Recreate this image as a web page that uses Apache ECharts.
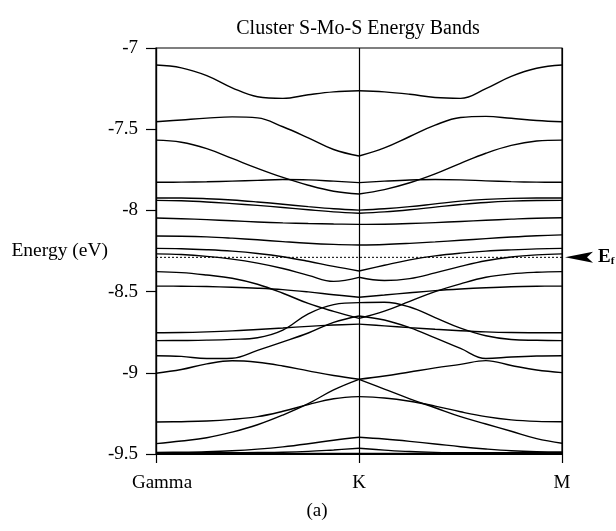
<!DOCTYPE html>
<html>
<head>
<meta charset="utf-8">
<script src="https://cdn.jsdelivr.net/npm/echarts@6/dist/echarts.min.js"></script>
<style>
html, body { margin: 0; padding: 0; background: #fff; }
#main { width: 616px; height: 531px; }
</style>
</head>
<body>
<div id="main"></div>
<script>
// k-path: Gamma = 0, K = 1, M = 2
var kLabels = ['Gamma', 'K', 'M'];
var kLeft = [0, 0.125, 0.25, 0.375, 0.5, 0.625, 0.75, 0.875, 1];
var kRight = [1, 1.125, 1.25, 1.375, 1.5, 1.625, 1.75, 1.875, 2];
var fermiLevel = -8.289;

// Gamma -> K, one row per band
var bandsGK = [
    [-7.105, -7.122, -7.17, -7.245, -7.30, -7.31, -7.288, -7.27, -7.263],
    [-7.454, -7.443, -7.432, -7.424, -7.43, -7.485, -7.553, -7.625, -7.665],
    [-7.567, -7.58, -7.62, -7.68, -7.741, -7.797, -7.845, -7.882, -7.899],
    [-7.827, -7.826, -7.824, -7.82, -7.815, -7.81, -7.812, -7.82, -7.829],
    [-7.924, -7.924, -7.928, -7.936, -7.948, -7.962, -7.977, -7.99, -7.998],
    [-7.938, -7.941, -7.948, -7.958, -7.969, -7.982, -7.996, -8.009, -8.018],
    [-8.047, -8.051, -8.057, -8.064, -8.071, -8.077, -8.081, -8.084, -8.086],
    [-8.158, -8.159, -8.163, -8.171, -8.181, -8.192, -8.202, -8.209, -8.213],
    [-8.234, -8.236, -8.242, -8.251, -8.265, -8.285, -8.313, -8.345, -8.373],
    [-8.268, -8.272, -8.283, -8.30, -8.325, -8.358, -8.40, -8.437, -8.412],
    [-8.377, -8.383, -8.398, -8.418, -8.455, -8.51, -8.573, -8.622, -8.665],
    [-8.466, -8.467, -8.469, -8.473, -8.479, -8.488, -8.502, -8.519, -8.535],
    [-8.753, -8.752, -8.748, -8.742, -8.733, -8.724, -8.714, -8.706, -8.70],
    [-8.802, -8.801, -8.799, -8.794, -8.784, -8.737, -8.637, -8.58, -8.568],
    [-8.895, -8.899, -8.912, -8.91, -8.862, -8.81, -8.755, -8.69, -8.65],
    [-9.003, -8.98, -8.945, -8.926, -8.935, -8.958, -8.988, -9.017, -9.04],
    [-9.303, -9.301, -9.297, -9.287, -9.27, -9.237, -9.196, -9.16, -9.147],
    [-9.436, -9.42, -9.40, -9.365, -9.32, -9.26, -9.19, -9.105, -9.04],
    [-9.49, -9.489, -9.486, -9.48, -9.47, -9.456, -9.437, -9.415, -9.397],
    [-9.492, -9.492, -9.492, -9.492, -9.491, -9.489, -9.484, -9.475, -9.465],
    [-9.496, -9.496, -9.496, -9.496, -9.496, -9.496, -9.496, -9.496, -9.496]
];

// K -> M, same band order
var bandsKM = [
    [-7.263, -7.27, -7.285, -7.305, -7.31, -7.25, -7.175, -7.125, -7.105],
    [-7.665, -7.615, -7.545, -7.475, -7.428, -7.421, -7.433, -7.446, -7.454],
    [-7.899, -7.872, -7.83, -7.775, -7.71, -7.648, -7.60, -7.573, -7.567],
    [-7.829, -7.82, -7.813, -7.81, -7.812, -7.818, -7.823, -7.826, -7.827],
    [-7.998, -7.99, -7.977, -7.96, -7.943, -7.932, -7.926, -7.924, -7.924],
    [-8.018, -8.009, -7.996, -7.98, -7.964, -7.951, -7.943, -7.939, -7.938],
    [-8.086, -8.085, -8.081, -8.075, -8.068, -8.061, -8.054, -8.048, -8.045],
    [-8.213, -8.21, -8.203, -8.194, -8.184, -8.174, -8.164, -8.156, -8.151],
    [-8.373, -8.338, -8.305, -8.28, -8.263, -8.251, -8.243, -8.237, -8.234],
    [-8.412, -8.432, -8.42, -8.385, -8.345, -8.31, -8.287, -8.274, -8.268],
    [-8.665, -8.62, -8.56, -8.50, -8.452, -8.412, -8.391, -8.381, -8.377],
    [-8.535, -8.521, -8.507, -8.494, -8.484, -8.476, -8.47, -8.467, -8.466],
    [-8.70, -8.711, -8.722, -8.732, -8.741, -8.748, -8.752, -8.753, -8.753],
    [-8.568, -8.566, -8.595, -8.66, -8.725, -8.772, -8.795, -8.80, -8.802],
    [-8.65, -8.675, -8.722, -8.785, -8.85, -8.912, -8.903, -8.897, -8.895],
    [-9.04, -9.02, -8.995, -8.97, -8.948, -8.925, -8.955, -8.983, -8.999],
    [-9.147, -9.155, -9.175, -9.205, -9.24, -9.27, -9.29, -9.299, -9.301],
    [-9.04, -9.10, -9.16, -9.215, -9.27, -9.315, -9.36, -9.405, -9.434],
    [-9.397, -9.408, -9.422, -9.438, -9.455, -9.469, -9.48, -9.486, -9.488],
    [-9.465, -9.476, -9.485, -9.49, -9.492, -9.492, -9.492, -9.492, -9.492],
    [-9.496, -9.496, -9.496, -9.496, -9.496, -9.496, -9.496, -9.496, -9.496]
];

var serif = '"Liberation Serif", "DejaVu Serif", serif';
var chart = echarts.init(document.getElementById('main'));

var series = [];
function addBands(ks, bands) {
    for (var i = 0; i < bands.length; i++) {
        var pts = [];
        for (var j = 0; j < ks.length; j++) {
            pts.push([ks[j], bands[i][j]]);
        }
        series.push({
            type: 'line',
            data: pts,
            smooth: 0.4,
            showSymbol: false,
            silent: true,
            lineStyle: { color: '#000', width: 1.4 }
        });
    }
}
addBands(kLeft, bandsGK);
addBands(kRight, bandsKM);

// Fermi level, dotted, with the arrow + E_f label at the right
series.push({
    type: 'line',
    data: [[0, fermiLevel], [2, fermiLevel]],
    showSymbol: false,
    silent: true,
    lineStyle: { color: '#000', width: 1, type: [2, 2] },
    markPoint: {
        silent: true,
        symbol: 'path://M0,5 L28,0 L22,5 L28,10 Z',
        symbolSize: [28, 11],
        symbolOffset: [17, 0],
        itemStyle: { color: '#000' },
        label: {
            show: true,
            position: 'right',
            distance: 5,
            formatter: '{e|E}{f|f}',
            rich: {
                e: { fontFamily: serif, fontWeight: 'bold', fontSize: 19, color: '#000' },
                f: { fontFamily: serif, fontWeight: 'bold', fontSize: 11, color: '#000', padding: [8, 0, 0, 0] }
            }
        },
        data: [{ coord: [2, fermiLevel] }]
    }
});

var option = {
    animation: false,
    backgroundColor: '#fff',
    grid: {
        left: 156, right: 54, top: 48, bottom: 77,
        show: true, borderColor: '#000', borderWidth: 1.2
    },
    xAxis: {
        type: 'value',
        min: 0, max: 2, interval: 1,
        axisLine: { show: true, lineStyle: { color: '#000', width: 1.2 } },
        axisTick: { show: true, length: 9, lineStyle: { color: '#000', width: 1.2 } },
        splitLine: { show: true, lineStyle: { color: '#000', width: 1.2 } },
        axisLabel: {
            margin: 20,
            color: '#000',
            fontFamily: serif,
            fontSize: 19,
            formatter: function (v) {
                if (v === 0) return '{g|' + kLabels[0] + '}';
                return kLabels[Math.round(v)];
            },
            rich: {
                g: { fontFamily: serif, fontSize: 19, color: '#000', padding: [0, 0, 0, 12] }
            }
        }
    },
    yAxis: {
        type: 'value',
        min: -9.5, max: -7, interval: 0.5,
        name: 'Energy (eV)',
        nameLocation: 'middle',
        nameRotate: 0,
        nameGap: 48,
        nameMoveOverlap: false,
        nameTextStyle: { fontFamily: serif, fontSize: 19.5, color: '#000', align: 'right' },
        axisLine: { show: true, lineStyle: { color: '#000', width: 1.2 } },
        axisTick: { show: true, length: 10, lineStyle: { color: '#000', width: 1.2 } },
        splitLine: { show: false },
        axisLabel: { margin: 18, color: '#000', fontFamily: serif, fontSize: 19 }
    },
    graphic: [
        {
            type: 'text',
            x: 358, y: 29,
            style: {
                text: 'Cluster S-Mo-S Energy Bands',
                font: '20px ' + serif,
                fill: '#000',
                textAlign: 'center', textVerticalAlign: 'middle',
                align: 'center', verticalAlign: 'middle'
            }
        },
        {
            type: 'text',
            x: 317, y: 511,
            style: {
                text: '(a)',
                font: '19px ' + serif,
                fill: '#000',
                textAlign: 'center', textVerticalAlign: 'middle',
                align: 'center', verticalAlign: 'middle'
            }
        }
    ],
    series: series
};
chart.setOption(option);
</script>
</body>
</html>
